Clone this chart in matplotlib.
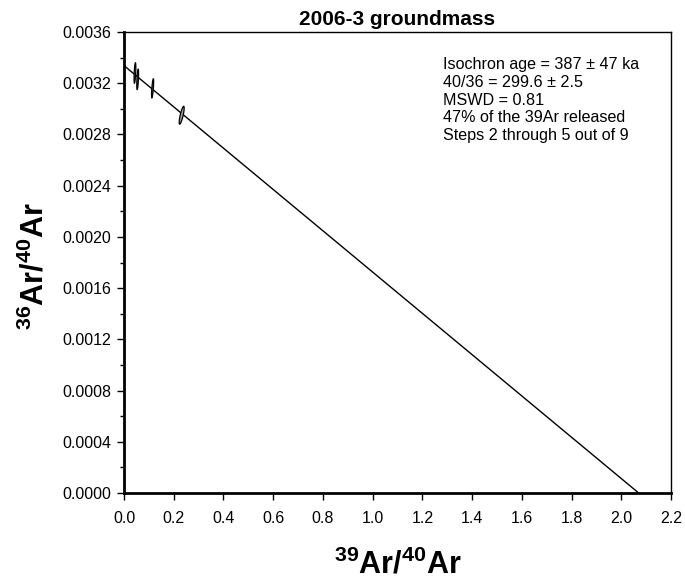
import numpy as np
import matplotlib
matplotlib.use("Agg")
import matplotlib.pyplot as plt
from matplotlib.ticker import MultipleLocator

plt.rcParams['font.family'] = ['Liberation Sans', 'DejaVu Sans']
plt.rcParams['mathtext.fontset'] = 'custom'
plt.rcParams['mathtext.rm'] = 'Liberation Sans'
plt.rcParams['mathtext.bf'] = 'Liberation Sans:bold'

# Data
title = "2006-3 groundmass"
step_x = [0.044, 0.055, 0.115, 0.232]          # 39Ar/40Ar
step_y = [0.00328, 0.00323, 0.00316, 0.00295]  # 36Ar/40Ar
step_ex = [0.003, 0.003, 0.003, 0.006]         # half-width (x)
step_ey = [0.000080, 0.000080, 0.000075, 0.000070]  # half-height (y)
step_shear = [0.002, 0.002, 0.003, 0.008]
iso_intercept_y = 1 / 299.6
iso_intercept_x = 2.07
notes = ["Isochron age = 387 \u00b1 47 ka",
         "40/36 = 299.6 \u00b1 2.5",
         "MSWD = 0.81",
         "47% of the 39Ar released",
         "Steps 2 through 5 out of 9"]

fig = plt.figure(figsize=(6.85, 5.79), dpi=100)
W, H = 685, 579
ax = fig.add_axes([124 / W, 1 - 493 / H, (671 - 124) / W, (493 - 32) / H])

ax.plot([0, iso_intercept_x], [iso_intercept_y, 0], color='black', lw=1.0, zorder=2)

t = np.linspace(0, 2 * np.pi, 100)
for cx, cy, ex, ey, sh in zip(step_x, step_y, step_ex, step_ey, step_shear):
    xs = cx + ex * np.cos(t) + sh * np.sin(t)
    ys = cy + ey * np.sin(t)
    ax.fill(xs, ys, facecolor='#a0a0a0', edgecolor='black', lw=0.9, zorder=3)

ax.set_xlim(0, 2.2)
ax.set_ylim(0, 0.0036)
ax.xaxis.set_major_locator(MultipleLocator(0.2))
ax.yaxis.set_major_locator(MultipleLocator(0.0004))
ax.yaxis.set_minor_locator(MultipleLocator(0.0002))
ax.xaxis.set_major_formatter(plt.FuncFormatter(lambda v, p: f"{v:.1f}"))
ax.yaxis.set_major_formatter(plt.FuncFormatter(lambda v, p: f"{v:.4f}"))
ax.tick_params(axis='both', direction='out', labelsize=11.5, length=5, width=1)
ax.tick_params(axis='y', which='minor', direction='out', length=3, width=1)
ax.tick_params(axis='x', pad=8)
ax.tick_params(axis='y', pad=4)
for s in ['left', 'bottom']:
    ax.spines[s].set_linewidth(2)
for s in ['top', 'right']:
    ax.spines[s].set_linewidth(1)

for i, line in enumerate(notes):
    fig.text(443 / W, 1 - (65 + i * 17.6) / H, line, fontsize=11.6, va='center', ha='left')

fig.text(397.5 / W, 1 - 25 / H, title, fontsize=15, fontweight='bold', ha='center', va='baseline')
fig.text(397.5 / W, 1 - 573 / H, r'$\mathbf{^{39}Ar/^{40}Ar}$', fontsize=22, ha='center', va='baseline')
fig.text(43 / W, 1 - 266 / H, r'$\mathbf{^{36}Ar/^{40}Ar}$', fontsize=22, ha='center', va='baseline',
         rotation=90, rotation_mode='anchor')

fig.savefig("out.png", dpi=100)
